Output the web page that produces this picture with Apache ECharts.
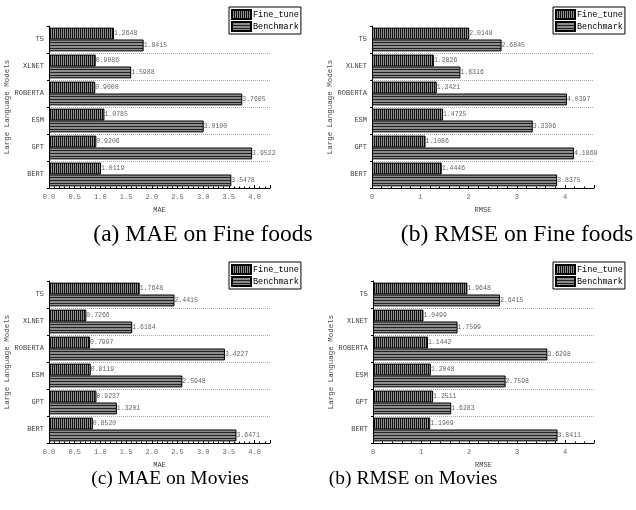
<!DOCTYPE html>
<html>
<head>
<meta charset="utf-8">
<script src="https://cdn.jsdelivr.net/npm/echarts@6/dist/echarts.min.js"></script>
<style>
html,body{margin:0;padding:0;background:#fff;}
#chart{width:636px;height:510px;}
</style>
</head>
<body>
<div id="chart"></div>
<script>
/* ---------- data (bottom to top) ---------- */
const models = ['BERT','GPT','ESM','ROBERTA','XLNET','T5'];
const seriesNames = ['Fine_tune','Benchmark'];

const maeFoodFine   = [1.0119, 0.9206, 1.0785, 0.9000, 0.9086, 1.2648];
const maeFoodBench  = [3.5478, 3.9522, 3.0100, 3.7605, 1.5988, 1.8415];
const rmseFoodFine  = [1.4446, 1.1086, 1.4725, 1.3421, 1.2826, 2.0148];
const rmseFoodBench = [3.8375, 4.1869, 3.3306, 4.0397, 1.8316, 2.6845];
const maeMovFine    = [0.8520, 0.9237, 0.8119, 0.7997, 0.7266, 1.7648];
const maeMovBench   = [3.6471, 1.3201, 2.5948, 3.4227, 1.6184, 2.4415];
const rmseMovFine   = [1.1909, 1.2511, 1.2048, 1.1442, 1.0499, 1.9648];
const rmseMovBench  = [3.8411, 1.6283, 2.7598, 3.6298, 1.7599, 2.6415];

const captions = ['(a) MAE on Fine foods','(b) RMSE on Fine foods','(c) MAE on Movies','(b) RMSE on Movies'];

/* ---------- hatch patterns ---------- */
function stripes(vertical){
  const c = document.createElement('canvas');
  if(vertical){
    c.width = 2; c.height = 1;
    const g = c.getContext('2d');
    g.fillStyle = '#909090'; g.fillRect(0,0,2,1);
    g.fillStyle = '#111'; g.fillRect(0,0,1,1);
  }else{
    c.width = 1; c.height = 3;
    const g = c.getContext('2d');
    g.fillStyle = '#8c8c8c'; g.fillRect(0,0,1,3);
    g.fillStyle = '#222'; g.fillRect(0,0,1,1);
  }
  return {image:c, repeat:'repeat'};
}
const fineFill  = stripes(true);
const benchFill = stripes(false);

/* ---------- panel layout ---------- */
const MONO = 'Liberation Mono';
const panels = [
  {grid:{left:49, top:26, width:221, height:162}, name:'MAE',  max:4.3, interval:0.5, dec:1, fine:maeFoodFine,  bench:maeFoodBench,  legend:{left:229, top:7}},
  {grid:{left:372,top:26, width:222, height:162}, name:'RMSE', max:4.6, interval:1,   dec:0, fine:rmseFoodFine, bench:rmseFoodBench, legend:{left:553, top:7}},
  {grid:{left:49, top:281,width:221, height:162}, name:'MAE',  max:4.3, interval:0.5, dec:1, fine:maeMovFine,   bench:maeMovBench,   legend:{left:229, top:262}},
  {grid:{left:373,top:281,width:221, height:162}, name:'RMSE', max:4.6, interval:1,   dec:0, fine:rmseMovFine,  bench:rmseMovBench,  legend:{left:553, top:262}}
];
const captionPos = [[203,235,23.5],[517,235,23.5],[170,479,19.5],[413,479,19.5]];

const grid=[], xAxis=[], yAxis=[], series=[], legend=[], graphic=[];
panels.forEach((p,i)=>{
  grid.push(Object.assign({containLabel:false}, p.grid));
  xAxis.push({
    type:'value', gridIndex:i, min:0, max:p.max, interval:p.interval,
    name:p.name, nameLocation:'middle', nameGap:19,
    nameTextStyle:{fontFamily:MONO, fontSize:7, color:'#444'},
    axisLine:{show:true, lineStyle:{color:'#000', width:1}},
    axisTick:{show:true, inside:true, length:3, lineStyle:{color:'#000'}},
    minorTick:{show:true, splitNumber:5, length:1.5, lineStyle:{color:'#000'}},
    axisLabel:{showMaxLabel:false, margin:6, fontFamily:MONO, fontSize:7, color:'#666',
      formatter:v=>v.toFixed(p.dec)},
    splitLine:{show:false}
  });
  yAxis.push({
    type:'category', gridIndex:i, data:models,
    name:'Large Language Models', nameLocation:'middle', nameGap:33, nameRotate:90,
    nameTextStyle:{fontFamily:MONO, fontSize:7.5, color:'#444'},
    axisLine:{show:true, lineStyle:{color:'#000', width:1}},
    axisTick:{show:true, length:2, lineStyle:{color:'#000'}},
    axisLabel:{margin:5, fontFamily:MONO, fontSize:7, color:'#444'},
    splitLine:{show:true, showMaxLine:false, showMinLine:false, lineStyle:{color:'#aaa', type:[1,1], width:1}}
  });
  [p.fine, p.bench].forEach((vals,k)=>{
    series.push({
      name:seriesNames[k], type:'bar', xAxisIndex:i, yAxisIndex:i,
      data:vals, barGap:'0%', barCategoryGap:'12%',
      itemStyle:{color:k===0?fineFill:benchFill, borderColor:'#000', borderWidth:1},
      label:{show:true, position:'right', distance:0, fontFamily:MONO, fontSize:6.5, color:'#666',
        formatter:d=>d.value.toFixed(4)},
      emphasis:{disabled:true}, animation:false
    });
  });
  legend.push({
    data:seriesNames, orient:'vertical', left:p.legend.left, top:p.legend.top,
    icon:'rect', itemWidth:19, itemHeight:9, itemGap:1, padding:[2,2,2,2],
    borderColor:'#000', borderWidth:1, backgroundColor:'#fff',
    textStyle:{fontFamily:MONO, fontSize:8.5, color:'#000', padding:[0,0,0,-3]},
    selectedMode:false
  });
  graphic.push({
    type:'text', x:captionPos[i][0], y:captionPos[i][1],
    style:{text:captions[i], fill:'#000', font:captionPos[i][2]+'px "Liberation Serif"', textAlign:'center', textVerticalAlign:'middle'}
  });
});

const chart = echarts.init(document.getElementById('chart'), null, {renderer:'canvas'});
chart.setOption({
  backgroundColor:'#fff',
  animation:false,
  grid, xAxis, yAxis, series, legend, graphic
});
</script>
</body>
</html>
